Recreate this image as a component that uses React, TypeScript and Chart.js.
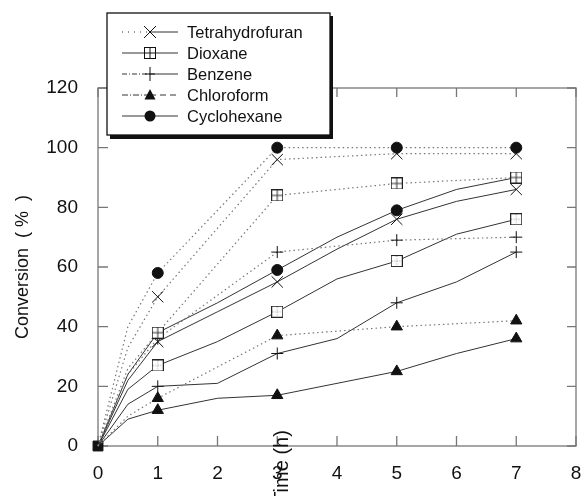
import React, { useEffect, useRef } from 'react';
import { Chart, registerables } from 'chart.js';

Chart.register(...registerables);

// ---- Data ----
const solidTimes = [0, 0.5, 1, 2, 3, 4, 5, 6, 7];
const dottedTimes = [0, 0.5, 1, 3, 5, 7];
const markerTimes = [1, 3, 5, 7];
const cyclohexaneSolidMarkerTimes = [3, 5];

const thfSolid = [0, 22, 35, 45, 55, 66, 76, 82, 86];
const cyclohexaneSolid = [0, 24, 38, 48, 59, 70, 79, 86, 90];
const dioxaneSolid = [0, 19, 27, 35, 45, 56, 62, 71, 76];
const benzeneSolid = [0, 14, 20, 21, 31, 36, 48, 55, 65];
const chloroformSolid = [0, 9, 12, 16, 17, 21, 25, 31, 36];

const cyclohexaneDotted = [0, 40, 58, 100, 100, 100];
const thfDotted = [0, 33, 50, 96, 98, 98];
const dioxaneDotted = [0, 26, 38, 84, 88, 90];
const benzeneDotted = [0, 24, 36, 65, 69, 70];
const chloroformDotted = [0, 10, 16, 37, 40, 42];

const legendLabels = ['Tetrahydrofuran', 'Dioxane', 'Benzene', 'Chloroform', 'Cyclohexane'];
const legendMarkers = ['crossRot', 'boxGrid', 'cross', 'triangle', 'circle'];
const legendLeftDash = [[1, 5], [], [5, 2, 1, 2], [6, 2, 1, 2], []];
const legendRightDash = [[], [], [], [6, 4], []];

const yTitle = 'Conversion  ( %  )';
const xTitle = 'Time (h)';

const FONT = '"Liberation Sans", Arial, Helvetica, sans-serif';

function makeBox(gridDotted: boolean) {
  const c = document.createElement('canvas');
  c.width = 12;
  c.height = 12;
  const g = c.getContext('2d')!;
  g.fillStyle = '#fff';
  g.fillRect(0, 0, 12, 12);
  g.strokeStyle = '#222';
  g.lineWidth = 1;
  g.strokeRect(0.5, 0.5, 11, 11);
  g.strokeStyle = gridDotted ? '#999' : '#333';
  if (gridDotted) g.setLineDash([1, 1.5]);
  g.beginPath();
  g.moveTo(6, 1);
  g.lineTo(6, 11);
  g.moveTo(1, 6);
  g.lineTo(11, 6);
  g.stroke();
  return c;
}

function drawMarker(ctx: CanvasRenderingContext2D, kind: string, x: number, y: number) {
  ctx.save();
  ctx.strokeStyle = '#111';
  ctx.fillStyle = '#111';
  ctx.lineWidth = 1;
  ctx.setLineDash([]);
  ctx.beginPath();
  if (kind === 'crossRot') {
    const s = 6;
    ctx.moveTo(x - s, y - s); ctx.lineTo(x + s, y + s);
    ctx.moveTo(x - s, y + s); ctx.lineTo(x + s, y - s);
    ctx.stroke();
  } else if (kind === 'boxGrid') {
    ctx.fillStyle = '#fff';
    ctx.fillRect(x - 6, y - 6, 12, 12);
    ctx.strokeRect(x - 5.5, y - 5.5, 11, 11);
    ctx.moveTo(x, y - 5.5); ctx.lineTo(x, y + 5.5);
    ctx.moveTo(x - 5.5, y); ctx.lineTo(x + 5.5, y);
    ctx.stroke();
  } else if (kind === 'cross') {
    ctx.moveTo(x, y - 7); ctx.lineTo(x, y + 7);
    ctx.moveTo(x - 5, y); ctx.lineTo(x + 5, y);
    ctx.stroke();
  } else if (kind === 'triangle') {
    ctx.moveTo(x, y - 6);
    ctx.lineTo(x + 5.5, y + 4.5);
    ctx.lineTo(x - 5.5, y + 4.5);
    ctx.closePath();
    ctx.fill();
  } else if (kind === 'circle') {
    ctx.arc(x, y, 5.5, 0, Math.PI * 2);
    ctx.fill();
  }
  ctx.restore();
}

export default function App() {
  const ref = useRef<HTMLCanvasElement>(null);

  useEffect(() => {
    if (!ref.current) return;
    const boxGrid = makeBox(false);
    const boxDotted = makeBox(true);

    const mk = (
      label: string,
      times: number[],
      values: number[],
      style: any,
      radius: number,
      marked: number[],
      dotted: boolean
    ) => ({
      label,
      data: times.map((t, i) => ({ x: t, y: values[i] })),
      borderColor: dotted ? '#777' : '#333',
      borderWidth: dotted ? 1.2 : 1,
      borderDash: dotted ? [1.5, 3] : [],
      pointStyle: style,
      pointRadius: (c: any) => (marked.includes(c.parsed?.x) ? radius : 0),
      pointBackgroundColor: '#111',
      pointBorderColor: '#111',
      pointBorderWidth: 1,
      tension: 0,
      fill: false,
      clip: false as any,
    });

    const datasets: any[] = [
      mk('Cyclohexane dotted', dottedTimes, cyclohexaneDotted, 'circle', 5.5, markerTimes, true),
      mk('THF dotted', dottedTimes, thfDotted, 'crossRot', 8, markerTimes, true),
      mk('Dioxane dotted', dottedTimes, dioxaneDotted, boxGrid, 6, markerTimes, true),
      mk('Benzene dotted', dottedTimes, benzeneDotted, 'cross', 6, markerTimes, true),
      mk('Chloroform dotted', dottedTimes, chloroformDotted, 'triangle', 6.5, markerTimes, true),
      mk('Cyclohexane', solidTimes, cyclohexaneSolid, 'circle', 5.5, cyclohexaneSolidMarkerTimes, false),
      mk('Tetrahydrofuran', solidTimes, thfSolid, 'crossRot', 8, markerTimes, false),
      mk('Dioxane', solidTimes, dioxaneSolid, boxDotted, 6, markerTimes, false),
      mk('Benzene', solidTimes, benzeneSolid, 'cross', 6, markerTimes, false),
      mk('Chloroform', solidTimes, chloroformSolid, 'triangle', 6.5, markerTimes, false),
      {
        label: 'origin',
        data: [{ x: solidTimes[0], y: thfSolid[0] }],
        pointStyle: 'rect',
        pointRadius: 7,
        pointBackgroundColor: '#111',
        pointBorderColor: '#111',
        showLine: false,
        clip: false,
      },
    ];

    const framePlugin = {
      id: 'frame',
      beforeDatasetsDraw(chart: any) {
        const { ctx, chartArea: a, scales } = chart;
        const xs = scales.x;
        const ys = scales.y;
        ctx.save();
        ctx.strokeStyle = '#777';
        ctx.lineWidth = 1.3;
        ctx.strokeRect(a.left, a.top, a.right - a.left, a.bottom - a.top);
        ctx.beginPath();
        xs.ticks.forEach((t: any) => {
          const px = xs.getPixelForValue(t.value);
          ctx.moveTo(px, a.bottom);
          ctx.lineTo(px, a.bottom - 10);
          ctx.moveTo(px, a.top);
          ctx.lineTo(px, a.top + 9);
        });
        ys.ticks.forEach((t: any) => {
          const py = ys.getPixelForValue(t.value);
          ctx.moveTo(a.left, py);
          ctx.lineTo(a.left + 10, py);
          ctx.moveTo(a.right, py);
          ctx.lineTo(a.right - 9, py);
        });
        ctx.stroke();
        ctx.restore();
      },
      afterDraw(chart: any) {
        const { ctx } = chart;
        // x title, rotated
        ctx.save();
        ctx.fillStyle = '#111';
        ctx.font = `20px ${FONT}`;
        ctx.translate(282, 467);
        ctx.rotate(-Math.PI / 2);
        ctx.textAlign = 'center';
        ctx.textBaseline = 'middle';
        ctx.fillText(xTitle, 0, 0);
        ctx.restore();

        // legend box
        const bx = 107, by = 13, bw = 223, bh = 122;
        ctx.save();
        ctx.fillStyle = '#111';
        ctx.fillRect(bx + 3, by + 3, bw, bh + 1);
        ctx.fillStyle = '#fff';
        ctx.fillRect(bx, by, bw, bh);
        ctx.strokeStyle = '#111';
        ctx.lineWidth = 1.3;
        ctx.strokeRect(bx, by, bw, bh);
        legendLabels.forEach((lab, i) => {
          const y = 32 + i * 21;
          ctx.strokeStyle = '#333';
          ctx.lineWidth = 1;
          ctx.setLineDash(legendLeftDash[i]);
          ctx.beginPath();
          ctx.moveTo(122, y);
          ctx.lineTo(150, y);
          ctx.stroke();
          ctx.setLineDash(legendRightDash[i]);
          ctx.beginPath();
          ctx.moveTo(150, y);
          ctx.lineTo(178, y);
          ctx.stroke();
          ctx.setLineDash([]);
          drawMarker(ctx, legendMarkers[i], 150, y);
          ctx.fillStyle = '#111';
          ctx.font = `16.5px ${FONT}`;
          ctx.textAlign = 'left';
          ctx.textBaseline = 'middle';
          ctx.fillText(lab, 187, y + 1);
        });
        ctx.restore();
      },
    };

    const chart = new Chart(ref.current, {
      type: 'line',
      data: { datasets },
      plugins: [framePlugin],
      options: {
        animation: false,
        responsive: true,
        maintainAspectRatio: false,
        events: [],
        layout: { padding: { top: 88, right: 8, left: 0, bottom: 0 } },
        plugins: { legend: { display: false }, tooltip: { enabled: false } },
        scales: {
          x: {
            type: 'linear',
            min: 0,
            max: 8,
            ticks: { stepSize: 1, color: '#111', padding: 16, font: { family: FONT, size: 19 } },
            grid: { display: false, drawTicks: false },
            border: { display: false },
            afterFit: (s: any) => { s.height = 50; s.paddingRight = 0; s.paddingLeft = 0; },
          },
          y: {
            type: 'linear',
            min: 0,
            max: 120,
            ticks: { stepSize: 20, color: '#111', padding: 20, font: { family: FONT, size: 19 } },
            grid: { display: false, drawTicks: false },
            border: { display: false },
            title: {
              display: true,
              text: yTitle,
              color: '#111',
              font: { family: FONT, size: 18 },
              padding: { top: 12, bottom: 0 },
            },
            afterFit: (s: any) => { s.width = 98; s.paddingTop = 0; s.paddingBottom = 0; },
          },
        },
      } as any,
    });
    return () => chart.destroy();
  }, []);

  return (
    <div style={{ position: 'fixed', left: 0, top: 0, width: 585, height: 496, background: '#fff' }}>
      <canvas ref={ref} />
    </div>
  );
}
